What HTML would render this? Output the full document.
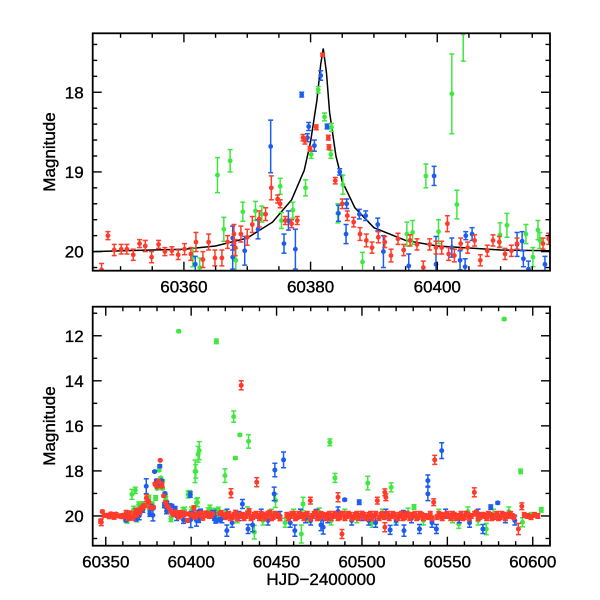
<!DOCTYPE html>
<html><head><meta charset="utf-8"><style>
html,body{margin:0;padding:0;background:#fff;}
svg{display:block;font-family:"Liberation Sans",sans-serif;}
.lbl{stroke:#000;stroke-width:0.35;}
</style></head><body>
<svg id="chart" width="600" height="600" viewBox="0 0 600 600" xmlns="http://www.w3.org/2000/svg">
<defs>
<clipPath id="clipTop"><rect x="92.7" y="33.3" width="457.3" height="237.4"/></clipPath>
<clipPath id="clipBot"><rect x="92.7" y="306.7" width="457.3" height="239"/></clipPath>
</defs>
<rect width="600" height="600" fill="#fff"/>
<g id="top"></g>
<g id="bot"></g>
<text class="lbl" x="0" y="0" transform="translate(55,152) rotate(-90)" text-anchor="middle" font-size="17">Magnitude</text>
<text class="lbl" x="0" y="0" transform="translate(55,426) rotate(-90)" text-anchor="middle" font-size="17">Magnitude</text>
<text class="lbl" x="321" y="585" text-anchor="middle" font-size="17">HJD−2400000</text>
</svg>
<script>
// [HJD, magnitude, error]
const topRed=[[60347.0,20.23,.08],[60348.0,19.80,.05],[60349.0,19.98,.07],[60350.1,19.97,.06],[60351.0,19.97,.06],[60352.0,20.04,.07],[60353.0,19.9,.05],[60353.9,19.93,.07],[60354.9,20.07,.07],[60356.0,19.91,.05],[60357.0,20.0,.05],[60358.1,19.99,.05],[60359.1,20.04,.06],[60360.1,19.97,.07],[60361.1,20.03,.08],[60361.9,19.88,.12],[60363.0,20.1,.1],[60363.9,19.88,.1],[60364.9,20.08,.1],[60366.0,20.08,.1],[60366.9,19.88,.08],[60367.9,19.78,.12],[60368.1,19.95,.1],[60369.0,19.78,.1],[60370.0,19.82,.1],[60370.8,19.66,.1],[60371.9,19.59,.1],[60372.9,19.53,.08],[60373.8,19.2,.15],[60374.8,19.34,.05],[60375.2,19.4,.05],[60376.0,19.61,.05],[60377.0,19.65,.05],[60377.9,19.61,.05],[60378.8,18.57,.04],[60379.1,18.61,.04],[60379.9,18.71,.03],[60380.9,18.44,.03],[60381.9,17.53,.02],[60382.8,18.57,.03],[60382.9,18.69,.03],[60383.9,19.11,.04],[60385.0,19.4,.06],[60385.8,19.55,.06],[60386.8,19.63,.06],[60387.8,19.78,.08],[60388.8,19.86,.08],[60389.7,19.95,.07],[60390.7,19.82,.07],[60391.7,19.88,.07],[60392.7,20.05,.08],[60393.8,19.84,.07],[60394.7,19.98,.07],[60395.7,19.86,.07],[60396.8,19.91,.07],[60397.8,20.2,.08],[60398.8,19.91,.07],[60399.8,19.95,.08],[60400.7,19.95,.08],[60401.6,19.65,.1],[60401.8,20.03,.08],[60402.7,20.05,.08],[60403.7,19.9,.07],[60404.8,19.95,.07],[60405.9,19.86,.07],[60406.8,20.11,.07],[60407.9,19.99,.07],[60408.8,19.86,.07],[60409.8,19.88,.07],[60410.7,20.03,.07],[60411.7,19.99,.07],[60412.6,19.9,.07],[60416.7,19.9,.07],[60417.6,19.84,.07]];
const topGreen=[[60365.3,19.04,.22],[60367.3,18.86,.14],[60366.3,19.72,.15],[60368.2,20.11,.15],[60369.3,19.5,.12],[60371.3,19.49,.12],[60372.3,19.53,.1],[60375.2,19.18,.1],[60375.4,19.61,.1],[60377.2,19.48,.1],[60379.2,19.2,.1],[60380.1,18.78,.05],[60381.2,17.97,.04],[60382.2,18.31,.05],[60383.2,18.78,.05],[60383.3,18.44,.05],[60385.1,19.16,.12],[60384.3,19.52,.12],[60388.2,20.13,.12],[60395.2,19.78,.15],[60396.1,19.76,.15],[60398.2,19.05,.15],[60400.2,19.75,.15],[60402.3,18.02,.5],[60403.1,19.41,.18],[60404.1,17.26,.35],[60409.9,19.79,.15],[60411.0,19.67,.15],[60415.1,20.07,.12],[60415.9,19.73,.12],[60416.2,19.86,.1],[60362.5,20.2,.12],[60361.4,20.07,.12],[60414.0,19.78,.12]];
const topBlue=[[60373.7,18.68,.33],[60375.8,19.9,.12],[60377.6,19.97,.25],[60378.6,18.03,.03],[60379.7,18.43,.05],[60379.5,18.57,.05],[60380.6,18.67,.07],[60381.6,17.79,.06],[60382.6,18.43,.03],[60384.6,19.0,.04],[60384.4,19.52,.1],[60385.6,19.78,.12],[60385.7,19.4,.06],[60387.7,19.53,.06],[60388.7,19.55,.06],[60390.6,19.66,.08],[60391.5,20.0,.2],[60395.5,20.18,.15],[60399.5,19.05,.12],[60399.8,20.16,.35],[60402.3,19.95,.12],[60403.6,20.11,.12],[60404.5,19.8,.05],[60404.4,20.19,.1],[60405.5,19.78,.08],[60412.6,19.91,.15],[60413.4,19.87,.12],[60413.6,20.09,.1],[60414.4,20.22,.1],[60417.0,20.16,.1],[60361.8,20.16,.1],[60367.7,19.83,.15],[60367.7,20.07,.15],[60369.6,19.99,.18],[60371.7,19.72,.12],[60376.5,19.61,.12]];
const longRed=[[60419,19.95,.08],[60420,20.05,.1],[60421,20.0,.1],[60422,19.9,.1],[60423,20.1,.1],[60424,20.05,.1],[60425,19.95,.1],[60426,19.85,.1],[60427,20.1,.12],[60429,20.0,.1],[60430,19.95,.1],[60431,20.1,.1],[60432,20.0,.1],[60433,19.9,.1],[60434,19.8,.12],[60435,20.1,.1],[60436,20.05,.1],[60437,19.95,.1],[60438,19.9,.1],[60439,20.0,.1],[60440,20.1,.1],[60441,19.9,.1],[60442,19.95,.1],[60443,20.1,.1],[60444,20.0,.12],[60445,19.9,.1],[60446,19.85,.1],[60447,20.1,.1],[60448,20.05,.1],[60449,19.9,.1],[60450,19.95,.1],[60451,20.0,.1],[60452,20.1,.1],[60456,19.95,.1],[60457,20.1,.1],[60458,20.0,.1],[60459,19.9,.1],[60460,19.9,.1],[60461,20.1,.1],[60462,20.05,.1],[60463,19.9,.1],[60464,19.95,.1],[60465,20.0,.1],[60466,20.1,.1],[60467,19.95,.1],[60468,19.9,.1],[60470,20.1,.1],[60471,20.0,.1],[60472,19.9,.1],[60473,19.85,.1],[60474,20.1,.1],[60475,20.05,.1],[60476,19.9,.1],[60477,19.95,.1],[60478,20.0,.1],[60479,20.1,.1],[60480,19.95,.1],[60481,19.9,.1],[60482,20.1,.1],[60483,20.0,.1],[60484,19.9,.1],[60485,19.95,.1],[60486,20.1,.1],[60487,20.05,.1],[60488,19.9,.1],[60489,19.9,.1],[60490,20.1,.1],[60491,20.0,.1],[60492,19.9,.1],[60493,19.95,.1],[60494,20.1,.1],[60495,20.05,.1],[60496,19.95,.1],[60497,19.9,.1],[60498,20.1,.1],[60499,20.0,.1],[60500,19.9,.1],[60501,19.95,.1],[60502,20.05,.1],[60503,20.1,.1],[60504,19.95,.1],[60505,19.9,.1],[60506,20.1,.1],[60507,20.0,.1],[60508,19.9,.1],[60510,20.1,.1],[60511,19.95,.1],[60512,19.9,.1],[60513,20.05,.1],[60515,19.9,.1],[60516,20.1,.1],[60517,20.0,.1],[60518,19.9,.1],[60519,19.95,.1],[60520,20.05,.1],[60521,20.1,.1],[60522,19.95,.1],[60523,19.9,.1],[60524,20.1,.1],[60525,20.05,.1],[60526,19.9,.1],[60527,19.95,.1],[60528,20.1,.1],[60529,20.0,.1],[60530,19.95,.1],[60531,19.9,.1],[60532,20.1,.1],[60533,20.05,.1],[60534,19.9,.1],[60535,19.95,.1],[60536,20.1,.1],[60537,20.0,.1],[60539,20.05,.1],[60540,19.9,.1],[60541,20.1,.1],[60544,20.05,.1],[60545,19.9,.1],[60546,19.95,.1],[60547,20.1,.1],[60548,20.0,.1],[60549,19.95,.1],[60550,19.9,.1],[60551,20.0,.1],[60552,20.1,.1],[60553,19.9,.1],[60554,19.95,.1],[60555,20.1,.1],[60556,20.0,.1],[60557,20.05,.1],[60558,19.9,.1],[60559,20.1,.1],[60560,20.05,.1],[60561,19.9,.1],[60562,19.95,.1],[60563,20.1,.1],[60564,20.0,.1],[60566,19.9,.1],[60567,19.85,.1],[60568,20.1,.1],[60569,20.05,.1],[60570,19.95,.1],[60571,19.95,.1],[60572,20.0,.1],[60573,20.1,.1],[60574,19.9,.1],[60575,19.95,.1],[60576,20.1,.1],[60577,20.0,.1],[60578,20.05,.1],[60579,19.9,.1],[60580,20.1,.1],[60581,20.05,.1],[60582,19.9,.1],[60583,19.95,.1],[60584,20.1,.1],[60585,20.0,.1],[60586,19.95,.1],[60587,19.9,.1],[60588,20.0,.1],[60589,20.05,.1],[60595,19.95,.1],[60597,20.0,.1],[60599,20.05,.1],[60601,19.95,.1],[60603,20.0,.1],
[60429.3,14.2,.2],[60423.3,18.99,.2],[60438.4,18.5,.2],[60469.8,19.32,.15],[60486,19.17,.2],[60488.3,20.8,.2],[60509,19.32,.15],[60513.4,18.95,.15],[60514,19.17,.15],[60542.6,17.51,.2],[60542,19.39,.15],[60565.8,18.95,.2],[60591.6,20.58,.25],[60593.6,19.57,.15],[60347.4,20.28,.15],[60513.4,20.5,.2]];
const longGreen=[[60392.7,11.8,.05],[60414.8,12.25,.1],[60424.9,15.59,.25],[60425.9,17.43,.05],[60428.5,16.4,.05],[60433.6,16.69,.3],[60402.7,18.02,.3],[60404.7,17.10,.4],[60419.8,18.21,.3],[60399.1,19.02,.15],[60403.7,19.39,.2],[60481.2,16.73,.15],[60484.2,18.31,.2],[60503.4,18.54,.3],[60517.1,18.73,.2],[60583.3,11.26,.05],[60592.9,18.02,.1],[60437.0,20.72,.3],[60464.5,20.8,.4],[60556.7,20.35,.2],[60572.8,20.58,.25],[60605,19.73,.1],[60449.4,19.32,.3],[60465.5,19.47,.3],[60594,20.28,.2],[60530.5,19.6,.1],
[60420,19.9,.15],[60427,20.1,.2],[60433,19.8,.2],[60442,20.2,.2],[60447,19.9,.2],[60455,20.3,.2],[60460,19.9,.2],[60468,20.1,.2],[60475,19.85,.2],[60482,20.2,.2],[60490,19.9,.2],[60497,20.1,.2],[60506,20.3,.2],[60512,19.9,.2],[60520,20.1,.2],[60527,19.85,.2],[60536,20.2,.2],[60545,19.9,.2],[60553,20.1,.2],[60562,19.8,.2],[60568,20.2,.2],[60577,19.9,.2],[60586,19.8,.2],[60599,20.0,.15]];
const longBlue=[[60454.1,17.51,.35],[60449,17.96,.3],[60448.6,19.02,.3],[60546.7,17.1,.35],[60538.6,18.43,.25],[60538.6,19.02,.3],[60543.6,20.58,.2],[60489.9,19.28,.05],[60498.4,19.39,.1],[60579.5,19.42,.05],[60575.4,19.61,.1],[60570.8,20.58,.2],[60460.7,20.65,.25],[60473.2,19.91,.2],[60477.3,20.5,.3],[60516.5,20.62,.2],[60524.6,20.65,.25],[60533.7,20.58,.2],[60420.9,20.65,.25],[60433.3,20.58,.2],[60403.1,20.2,.25],[60589.5,20.2,.2],[60430,19.47,.2],[60524.2,19.91,.15],
[60418,20.1,.2],[60421,19.9,.2],[60424,20.3,.2],[60428,20.0,.2],[60436,20.4,.3],[60441,19.9,.2],[60445,20.2,.2],[60452,20.0,.2],[60458,20.3,.2],[60464,19.9,.2],[60467,20.1,.2],[60470,20.2,.2],[60476,20.4,.25],[60480,20.1,.2],[60486,19.8,.2],[60494,20.2,.2],[60500,20.0,.2],[60504,20.2,.2],[60508,20.3,.2],[60514,19.9,.2],[60520,20.2,.2],[60529,20.1,.2],[60541,20.3,.2],[60549,19.9,.2],[60557,20.1,.2],[60563,20.3,.2],[60568,19.9,.2],[60584,20.1,.2]];
// model curve samples
const curveX=[60345.6,60355,60360,60365,60370,60374,60377,60379,60380,60381,60381.6,60382,60382.5,60383,60384,60385,60387,60390,60395,60400,60410,60417.8];
const curveMag=[20.0,19.98,19.97,19.93,19.83,19.63,19.35,18.98,18.62,18.1,17.65,17.45,17.75,18.25,18.8,19.12,19.45,19.7,19.86,19.93,19.98,19.99];
const topXTicks=[60360,60380,60400];
const topYTicks=[18,19,20];
const botXTicks=[60350,60400,60450,60500,60550,60600];
const botYTicks=[12,14,16,18,20];

const NS="http://www.w3.org/2000/svg";
function mk(tag,attrs,parent){const e=document.createElementNS(NS,tag);for(const k in attrs)e.setAttribute(k,attrs[k]);parent.appendChild(e);return e;}
const COL={red:"#ff3b2b",green:"#3ee83e",blue:"#1c5cf0"};

function panel(g,cfg){
  const {L,R,T,B,x0,x1,y0,y1,clip}=cfg;
  const sx=v=>L+(v-x0)/(x1-x0)*(R-L);
  const sy=v=>T+(v-y0)/(y1-y0)*(B-T);
  const data=mk("g",{"clip-path":"url(#"+clip+")"},g);
  
  
  if(cfg.curve){
    let d="";
    cfg.curve[0].forEach((x,i)=>{d+=(i?"L":"M")+sx(x).toFixed(2)+","+sy(cfg.curve[1][i]).toFixed(2);});
    const p=mk("path",{d:d,fill:"none",stroke:"#000","stroke-width":1.5},data);
    
    
  }
  cfg.series.forEach(s=>{
    const sg=mk("g",{},data);
    
    
    s.arr.forEach(pt=>{
      const cx=sx(pt[0]),cy=sy(pt[1]),ya=sy(pt[1]-pt[2]),yb=sy(pt[1]+pt[2]);
      const pg=mk("g",{stroke:COL[s.c],"stroke-width":1.5,fill:COL[s.c]},sg);
      
      
      mk("line",{x1:cx,x2:cx,y1:ya,y2:yb},pg);
      mk("line",{x1:cx-2.5,x2:cx+2.5,y1:ya,y2:ya},pg);
      mk("line",{x1:cx-2.5,x2:cx+2.5,y1:yb,y2:yb},pg);
      mk("circle",{cx:cx,cy:cy,r:cfg.r,stroke:"none"},pg);
    });
  });
  const fr=mk("rect",{x:L,y:T,width:R-L,height:B-T,fill:"none",stroke:"#000","stroke-width":1.8},g);
  
  
  const tk=mk("g",{stroke:"#000","stroke-width":1.4},g);
  
  
  const start=Math.ceil(x0/cfg.xMinor)*cfg.xMinor;
  for(let v=start;v<=x1;v+=cfg.xMinor){
    const major=Math.abs(v/cfg.xMajor-Math.round(v/cfg.xMajor))<1e-6;const len=major?9:4.5;const x=sx(v);
    mk("line",{x1:x,x2:x,y1:B,y2:B-len},tk);mk("line",{x1:x,x2:x,y1:T,y2:T+len},tk);
  }
  const ys=Math.ceil(y0/cfg.yMinor-1e-9)*cfg.yMinor;
  for(let v=ys;v<=y1+1e-9;v+=cfg.yMinor){
    const major=Math.abs(v/cfg.yMajor-Math.round(v/cfg.yMajor))<1e-6;const len=major?9:4.5;const y=sy(v);
    mk("line",{x1:L,x2:L+len,y1:y,y2:y},tk);mk("line",{x1:R,x2:R-len,y1:y,y2:y},tk);
  }
  cfg.xt.forEach(v=>{const t=mk("text",{x:sx(v),y:B+22,"text-anchor":"middle","font-size":17,"class":"lbl"},g);t.textContent=v;
    
    });
  cfg.yt.forEach(v=>{const t=mk("text",{x:L-9,y:sy(v)+6,"text-anchor":"end","font-size":17,"class":"lbl"},g);t.textContent=v;
    
    });
}
panel(document.getElementById("top"),{L:92.7,R:550,T:33.3,B:270.7,x0:60345.6,x1:60417.8,y0:17.26,y1:20.24,clip:"clipTop",r:2.4,
  xMinor:5,xMajor:20,yMinor:0.2,yMajor:1,xt:topXTicks,yt:topYTicks,curve:[curveX,curveMag],
  series:[{name:"green",c:"green",arr:topGreen},{name:"blue",c:"blue",arr:topBlue},{name:"red",c:"red",arr:topRed}]});
panel(document.getElementById("bot"),{L:92.7,R:550,T:306.7,B:545.7,x0:60342.35,x1:60610.1,y0:10.71,y1:21.32,clip:"clipBot",r:2.5,
  xMinor:10,xMajor:50,yMinor:1,yMajor:2,xt:botXTicks,yt:botYTicks,curve:null,
  series:[{name:"green",c:"green",arr:topGreen.concat(longGreen)},{name:"blue",c:"blue",arr:topBlue.concat(longBlue)},{name:"red",c:"red",arr:topRed.concat(longRed)}]});
</script>
</body></html>
